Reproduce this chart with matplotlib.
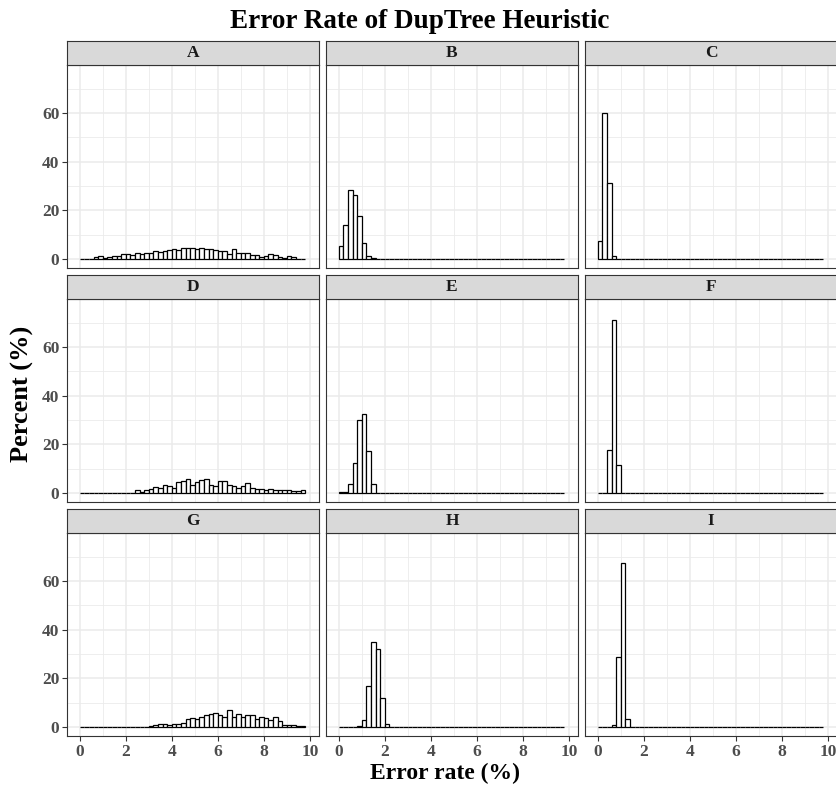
import numpy as np
import matplotlib
matplotlib.use("Agg")
import matplotlib.pyplot as plt

plt.rcParams['font.family'] = ['Liberation Serif', 'DejaVu Serif']

# ---- data (percent per 0.2-wide error-rate bin, 0.0 .. 9.8) ----
bin_width = 0.2
n_bins = 49
panels = ["A", "B", "C", "D", "E", "F", "G", "H", "I"]

A = [0, 0, 0.1, 0.8, 1.3, 0.5, 0.9, 1.1, 1.2, 2.0, 2.2, 1.7, 2.3, 2.0, 2.6, 2.6,
     3.1, 3.0, 3.4, 3.8, 4.0, 3.7, 4.4, 4.7, 4.5, 4.0, 4.5, 4.2, 4.0, 3.7, 3.1,
     3.4, 2.0, 4.3, 2.6, 2.5, 2.3, 1.8, 1.5, 1.0, 1.2, 2.0, 1.5, 0.7, 0.4, 1.1,
     0.7, 0.2, 0.1]
B = [5.3, 14.0, 28.4, 26.3, 17.7, 6.4, 1.1, 0.3]
C = [7.4, 60.0, 31.4, 1.2]
D = [0, 0, 0, 0, 0, 0, 0, 0.2, 0.2, 0, 0, 0, 1.1, 0.5, 1.4, 1.6, 2.5, 2.2,
     3.3, 3.0, 2.2, 4.7, 4.9, 5.8, 3.3, 4.7, 5.2, 5.8, 3.3, 3.0, 4.9, 4.9,
     3.3, 3.0, 2.2, 2.7, 4.1, 1.9, 1.6, 1.6, 1.1, 1.6, 1.4, 1.1, 1.1, 1.1,
     0.8, 0.9, 1.4]
E = [0.3, 0.5, 3.9, 12.2, 30.0, 32.5, 17.4, 3.7, 0.2]
F = [0, 0, 17.7, 71.2, 11.3]
G = [0, 0, 0, 0, 0, 0, 0, 0, 0, 0, 0, 0, 0, 0, 0.05,
     0.4, 0.7, 1.1, 1.2, 0.8, 1.4, 1.2, 1.8, 3.2, 3.7, 3.4, 4.2, 5.1, 5.3,
     5.6, 5.1, 4.2, 7.0, 4.2, 5.3, 4.2, 4.8, 5.1, 3.4, 4.2, 3.7, 2.9, 4.0,
     2.3, 1.0, 1.0, 1.0, 0.4, 0.4]
H = [0, 0, 0, 0, 0.5, 3.0, 16.9, 35.0, 31.9, 12.1, 1.2]
I = [0, 0, 0, 0.7, 28.7, 67.4, 3.2]
series = [A, B, C, D, E, F, G, H, I]

x_ticks = [0, 2, 4, 6, 8, 10]
y_ticks = [0, 20, 40, 60]

title = "Error Rate of DupTree Heuristic"
xlabel = "Error rate (%)"
ylabel = "Percent (%)"

# ---- layout (pixels) ----
W, H_px = 836, 788
fig = plt.figure(figsize=(W / 100, H_px / 100), dpi=100)

col_left = [67, 326, 585]
panel_w = 252
strip_top = [41, 275, 509]
strip_h = 24
panel_h = 203

edges = np.arange(n_bins) * bin_width
grid_col = "#EBEBEB"
frame_col = "#333333"

for idx, (name, vals) in enumerate(zip(panels, series)):
    r, c = divmod(idx, 3)
    full = np.zeros(n_bins)
    full[:len(vals)] = vals
    x0 = col_left[c]
    top = strip_top[r] + strip_h
    ax = fig.add_axes([x0 / W, 1 - (top + panel_h) / H_px, panel_w / W, panel_h / H_px])
    ax.set_xlim(-0.56, 10.4)
    ax.set_ylim(-3.7, 79.7)
    ax.set_xticks(x_ticks)
    ax.set_yticks(y_ticks)
    ax.set_xticks([1, 3, 5, 7, 9], minor=True)
    ax.set_yticks([10, 30, 50, 70], minor=True)
    ax.grid(True, which="major", color=grid_col, lw=1.1, zorder=0)
    ax.grid(True, which="minor", color=grid_col, lw=0.6, zorder=0)
    ax.set_axisbelow(True)
    ax.bar(edges, full, width=bin_width, align="edge", color="white",
           edgecolor="black", linewidth=0.9, zorder=3)
    for s in ax.spines.values():
        s.set_color(frame_col)
        s.set_linewidth(0.8)
    ax.tick_params(which="minor", length=0)
    ax.tick_params(which="major", length=3.5, width=0.8, color=frame_col,
                   labelsize=12.5, labelcolor="#4D4D4D", pad=2)
    if c != 0:
        ax.tick_params(axis="y", length=0, labelleft=False)
    if r != 2:
        ax.tick_params(axis="x", length=0, labelbottom=False)
    for lab in ax.get_xticklabels() + ax.get_yticklabels():
        lab.set_fontweight("bold")

    # strip
    sax = fig.add_axes([x0 / W, 1 - (strip_top[r] + strip_h) / H_px, panel_w / W, strip_h / H_px])
    sax.set_facecolor("#D9D9D9")
    sax.set_xticks([])
    sax.set_yticks([])
    for s in sax.spines.values():
        s.set_color(frame_col)
        s.set_linewidth(0.8)
    sax.text(0.5, 0.5, name, transform=sax.transAxes, ha="center", va="center",
             fontsize=12.5, fontweight="bold", color="#1A1A1A")

fig.text(420 / W, 1 - 22 / H_px, title, ha="center", va="center",
         fontsize=19.5, fontweight="bold")
fig.text(445 / W, 1 - 773 / H_px, xlabel, ha="center", va="center",
         fontsize=17, fontweight="bold")
fig.text(22 / W, 1 - 394 / H_px, ylabel, ha="center", va="center",
         fontsize=19, fontweight="bold", rotation=90)

fig.savefig("out.png", dpi=100)
